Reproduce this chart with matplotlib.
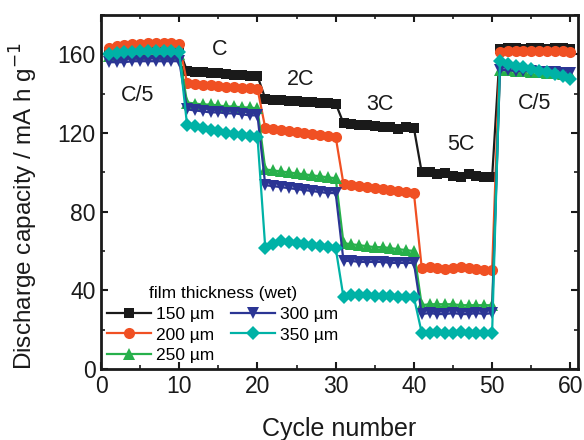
"""
Rate capability of electrodes with different wet film thickness.
"""

import numpy as np
import matplotlib
matplotlib.use('Agg')
import matplotlib.pyplot as plt
from matplotlib.ticker import MultipleLocator

plt.rcParams['font.family'] = ['Liberation Sans', 'DejaVu Sans']

# Cycle numbers and discharge capacities (mA h g^-1)
cycles = np.arange(1, 61)

cap_150 = [161, 161.5, 162, 162, 162.5, 162.5, 163, 163, 163, 162.5,
           151.5, 151, 151, 150.5, 150.5, 150, 149.5, 149.5, 149, 149,
           137.5, 137, 137, 136.5, 136.5, 136, 136, 135.5, 135.5, 135,
           125, 124.5, 124, 124, 123.5, 123, 123, 122, 123, 122.5,
           100, 100, 99, 99.5, 98, 97.5, 99, 98, 97.5, 97.5,
           162.5, 163, 163, 162.5, 163, 163, 162.5, 163, 163, 162.5]
cap_200 = [163, 164, 164.5, 165, 165, 165.5, 166, 166, 165.5, 165,
           145.5, 145, 144.5, 144.5, 144, 143.5, 143.5, 143, 143, 142.5,
           122.5, 122, 121.5, 121, 120.5, 120, 119.5, 119, 118.5, 118,
           94, 93.5, 93, 92.5, 92, 91.5, 91, 90.5, 90, 89.5,
           51.5, 52, 51.5, 51, 51.5, 52, 51.5, 51, 50.5, 50.5,
           161, 161.5, 161.5, 161.5, 161.5, 161.5, 161.5, 161.5, 161.5, 161]
cap_250 = [159, 159.5, 160, 160, 160, 160.5, 160.5, 160, 160, 160,
           135.5, 135, 134.5, 134.5, 134, 133.5, 133.5, 133, 133, 132.5,
           101.5, 101, 100.5, 100, 99.5, 99, 98.5, 98, 97.5, 97,
           64, 63.5, 63, 62.5, 62, 62, 61.5, 61, 60.5, 60,
           32.5, 33, 33, 33, 33, 32.5, 32.5, 32.5, 32.5, 32.5,
           152, 152, 151.5, 151.5, 151, 151, 150.5, 150.5, 150, 150]
cap_300 = [156, 156, 156, 156.5, 156.5, 156.5, 156.5, 156.5, 156.5, 156.5,
           132, 131.5, 131, 130.5, 130.5, 130, 130, 129.5, 129, 129,
           93.5, 93, 92.5, 92, 91.5, 91, 90.5, 90, 89.5, 89.5,
           55, 55, 54.5, 54.5, 54.5, 54.5, 54, 54, 54, 54,
           28, 28.5, 28, 28, 28.5, 28, 28, 28.5, 28, 28.5,
           152, 152, 151.5, 151.5, 151.5, 151, 151, 151, 150.5, 150.5]
cap_350 = [160, 160.5, 161, 161, 161.5, 161.5, 161.5, 161.5, 161.5, 161,
           124, 123.5, 122.5, 121.5, 121, 120, 119.5, 119, 118.5, 118,
           61.5, 63.5, 65, 64.5, 64, 63.5, 63, 62.5, 62, 61.5,
           36.5, 37.5, 37.5, 37.5, 37, 37, 37, 36.5, 36.5, 36.5,
           18.5, 18.5, 19, 18.5, 18.5, 19, 18.5, 18.5, 18.5, 18.5,
           156.5, 155, 154, 153.5, 152.5, 151.5, 151, 150, 149, 147.5]

labels = ['150 µm', '200 µm', '250 µm', '300 µm', '350 µm']
colors = ['#1a1a1a', '#f05023', '#27b04b', '#2b3594', '#00b2a6']
markers = ['s', 'o', '^', 'v', 'D']
sizes = [7, 8, 8, 8, 7]

# C-rate annotations
rate_names = ['C/5', 'C', '2C', '3C', '5C', 'C/5']
rate_x = [4.7, 15.2, 25.5, 35.6, 46.0, 55.4]
rate_y = [139, 162.5, 147, 134.5, 114, 135]

fig = plt.figure(figsize=(5.84, 4.4), dpi=100)
ax = fig.add_axes([0.173, 0.161, 0.817, 0.805])

series = [cap_150, cap_200, cap_250, cap_300, cap_350]
for vals, lab, c, m, ms in zip(series, labels, colors, markers, sizes):
    ax.plot(cycles, vals, color=c, marker=m, markersize=ms, linewidth=1.6,
            markeredgewidth=0, label=lab)

for name, x, y in zip(rate_names, rate_x, rate_y):
    ax.text(x, y, name, fontsize=15.5, ha='center', va='center', color='#1a1a1a')

ax.set_xlim(0, 61)
ax.set_ylim(0, 180)
ax.xaxis.set_major_locator(MultipleLocator(10))
ax.xaxis.set_minor_locator(MultipleLocator(5))
ax.yaxis.set_major_locator(MultipleLocator(40))
ax.yaxis.set_minor_locator(MultipleLocator(20))
ax.tick_params(which='both', direction='in', top=True, right=True,
               labelsize=16.5, color='#1a1a1a', labelcolor='#1a1a1a')
ax.tick_params(which='major', length=5, width=1.5, pad=4)
ax.tick_params(which='minor', length=3, width=1.2)
for spine in ax.spines.values():
    spine.set_linewidth(2)
    spine.set_color('#1a1a1a')

ax.set_xlabel('Cycle number', fontsize=18, color='#1a1a1a', labelpad=14)
ax.set_ylabel('Discharge capacity / mA h g$^{-1}$', fontsize=17.5,
              color='#1a1a1a')
ax.yaxis.set_label_coords(-0.128, 0.46)

leg = ax.legend(loc='lower left', bbox_to_anchor=(-0.02, -0.028), ncol=2,
                frameon=False, fontsize=12.5, title='film thickness (wet)',
                title_fontsize=12.5, handlelength=2.5, handletextpad=0.3,
                columnspacing=1.0, labelspacing=0.33)

fig.savefig('out.png', dpi=100)
plt.close(fig)
